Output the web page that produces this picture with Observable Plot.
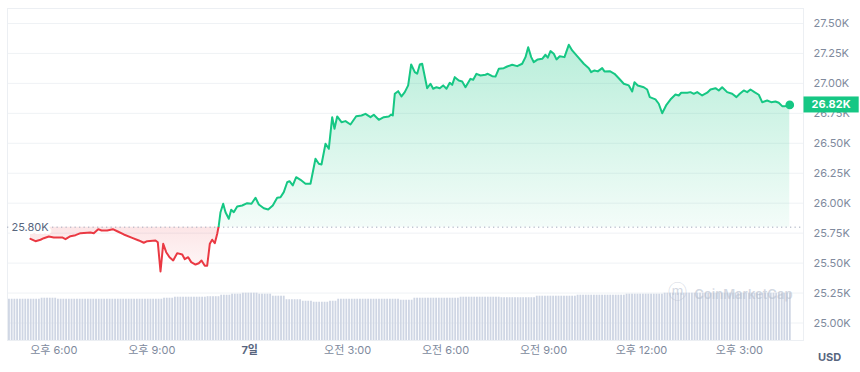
<!DOCTYPE html>
<html>
<head>
<meta charset="utf-8">
<script src="https://cdn.jsdelivr.net/npm/d3@7"></script>
<script src="https://cdn.jsdelivr.net/npm/@observablehq/plot@0.6"></script>
<style>
  html, body { margin: 0; padding: 0; background: #fff; }
  #chart { width: 860px; height: 372px; }
  svg { display: block; }
</style>
</head>
<body>
<div id="chart"></div>
<script>
// ---- data (hours relative to midnight of the 7th, price in thousands USD) ----
const times = [
 -6.714,-6.561,-6.407,-6.306,-6.153,-6.000,-5.743,-5.642,-5.489,-5.335,
 -5.182,-4.876,-4.775,-4.640,-4.539,-4.365,-4.193,-4.058,-3.856,-3.599,
 -3.397,-3.244,-3.139,-2.885,-2.815,-2.732,-2.649,-2.557,-2.456,-2.343,
 -2.221,-2.067,-1.988,-1.884,-1.792,-1.660,-1.559,-1.476,-1.375,-1.302,
 -1.222,-1.149,-1.069,-0.995,-0.946,-0.894,-0.812,-0.741,-0.640,-0.567,
 -0.487,-0.383,-0.230,-0.077,0.055,0.178,0.279,0.432,0.567,0.707,
 0.842,0.943,1.044,1.149,1.219,1.320,1.424,1.556,1.709,1.862,
 2.015,2.116,2.199,2.322,2.423,2.527,2.597,2.680,2.811,2.934,
 3.087,3.262,3.424,3.547,3.700,3.801,3.954,4.107,4.260,4.334,
 4.383,4.444,4.548,4.649,4.750,4.854,4.946,5.057,5.130,5.210,
 5.283,5.436,5.537,5.620,5.721,5.822,5.926,6.027,6.128,6.202,
 6.282,6.404,6.508,6.609,6.762,6.845,6.946,7.069,7.222,7.293,
 7.427,7.528,7.629,7.782,7.886,8.040,8.193,8.346,8.447,8.530,
 8.622,8.701,8.824,8.959,9.060,9.130,9.213,9.314,9.396,9.497,
 9.641,9.773,9.877,10.030,10.233,10.386,10.459,10.560,10.661,10.796,
 10.866,11.029,11.173,11.304,11.458,11.611,11.715,11.785,11.886,12.070,
 12.174,12.254,12.428,12.529,12.634,12.765,12.909,13.041,13.142,13.216,
 13.400,13.501,13.602,13.706,13.859,14.012,14.113,14.266,14.367,14.471,
 14.624,14.777,14.909,15.010,15.133,15.237,15.338,15.460,15.592,15.696,
 15.849,15.972,16.103,16.204,16.309,16.410,16.541
];
const prices = [
 25.703,25.683,25.695,25.708,25.722,25.714,25.714,25.700,25.725,25.733,
 25.750,25.755,25.750,25.783,25.772,25.772,25.783,25.766,25.739,25.711,
 25.689,25.670,25.683,25.689,25.674,25.430,25.661,25.591,25.549,25.522,
 25.583,25.572,25.533,25.549,25.508,25.488,25.499,25.522,25.478,25.478,
 25.661,25.695,25.666,25.745,25.814,25.925,25.995,25.925,25.870,25.945,
 25.925,25.973,25.981,26.000,25.995,26.045,25.989,25.958,25.947,25.981,
 26.045,26.050,26.092,26.175,26.184,26.148,26.217,26.195,26.162,26.162,
 26.371,26.329,26.323,26.496,26.454,26.718,26.621,26.724,26.676,26.685,
 26.657,26.726,26.732,26.746,26.718,26.738,26.696,26.718,26.724,26.740,
 26.732,26.913,26.935,26.891,26.927,26.983,27.158,27.094,27.080,27.158,
 27.164,26.960,26.997,26.955,26.968,26.960,26.983,26.955,27.005,26.988,
 27.052,27.024,27.016,26.968,27.038,27.030,27.080,27.066,27.072,27.080,
 27.060,27.057,27.122,27.127,27.141,27.155,27.144,27.164,27.219,27.302,
 27.219,27.177,27.200,27.205,27.239,27.214,27.269,27.247,27.200,27.227,
 27.219,27.322,27.275,27.227,27.164,27.127,27.094,27.108,27.100,27.127,
 27.100,27.102,27.080,27.043,26.997,26.983,26.932,27.010,26.983,26.968,
 26.949,26.885,26.866,26.830,26.751,26.821,26.872,26.907,26.899,26.922,
 26.922,26.927,26.913,26.927,26.899,26.922,26.949,26.960,26.941,26.968,
 26.927,26.913,26.885,26.913,26.941,26.927,26.949,26.927,26.905,26.843,
 26.857,26.843,26.849,26.838,26.810,26.810,26.820
];
// relative 5-minute volume bars, first bar at 16:36 on the 6th
const volumeStart = -7.40;
const volumeStep = 5 / 60;
const volumes = [
 41,41,41,41,41,41,41,41,41,41,41,41,
 42,42,42,42,42,42,
 41,41,41,41,41,41,41,41,41,41,41,41,41,
 41,41,41,41,41,41,41,41,41,41,41,41,41,
 41,41,41,41,41,41,41,41,41,41,41,41,41,
 42,42,42,42,
 43,43,43,43,43,43,43,43,43,43,43,43,
 43.5,43.5,43.5,43.5,43.5,
 45,45,45,45,
 46,46,46,46,
 47,47,47,47,47,47,
 46,46,46,46,46,
 44,44,44,44,44,
 40.5,40.5,40.5,40.5,40.5,40.5,
 39,39,39,39,
 38,38,38,38,38,38,
 39,39,39,
 41,41,41,41,41,41,41,41,41,41,41,41,41,41,41,41,41,41,41,41,41,41,41,
 40,40,40,40,40,
 42,42,42,42,42,42,42,42,42,42,42,42,42,42,42,42,42,
 43,43,43,43,43,43,43,43,43,43,43,43,43,43,43,
 42.5,42.5,42.5,42.5,42.5,42.5,42.5,42.5,42.5,42.5,42.5,42.5,42.5,
 44,44,44,44,44,44,44,44,44,44,44,44,44,44,44,
 45,45,45,45,45,45,45,45,45,45,45,45,45,45,45,45,45,45,
 46,46,46,46,46,46,46,46,46,46,46,46,46,46,
 47,47,47,47,47,47,47,47,47,47,47,47,47,47,47,47,
 47,47,47,47,47,47,47,47,47,47,47,47,47,47,47,47,
 47,47,47,47,47,47,47,47,47,47,47,47,47,47,47
];
const baseline = 25.80;
const yTicks = [25.00, 25.25, 25.50, 25.75, 26.00, 26.25, 26.50, 26.75, 27.00, 27.25, 27.50];
const yTickLabels = ["25.00K","25.25K","25.50K","25.75K","26.00K","26.25K","26.50K","26.75K","27.00K","27.25K","27.50K"];
const xTicks = [-6, -3, 0, 3, 6, 9, 12, 15];
const xTickLabels = ["오후 6:00","오후 9:00","7일","오전 3:00","오전 6:00","오전 9:00","오후 12:00","오후 3:00"];
const currency = "USD";
const watermark = "CoinMarketCap";

// ---- build tables ----
const n = Math.min(times.length, prices.length);
const series = d3.range(n).map(i => ({t: times[i], p: prices[i]}));
const volData = volumes.map((v, i) => ({t: volumeStart + i * volumeStep, v}));
const last = series[series.length - 1];
const xDomain = [-7.418, 16.962];
const yDomain = [24.854, 27.625];
const volShare = 0.1425; // share of the plot height used by the tallest volume bar
const vMax = d3.max(volumes);
const volTop = d => yDomain[0] + d.v / vMax * volShare * (yDomain[1] - yDomain[0]);

const GREEN = "#16c784", RED = "#ea3943";
const fmtK = d => d3.format(".2f")(d) + "K";
const priceLabel = fmtK(last.p);
const yLabelOf = new Map(yTicks.map((v, i) => [v, yTickLabels[i]]));
const xLabelOf = new Map(xTicks.map((v, i) => [v, xTickLabels[i]]));

const chart = Plot.plot({
  width: 860,
  height: 372,
  marginLeft: 7,
  marginRight: 57,
  marginTop: 8,
  marginBottom: 32,
  x: {domain: xDomain, axis: null},
  y: {domain: yDomain, axis: null},
  style: {fontFamily: "Inter, 'Noto Sans CJK KR', sans-serif", fontSize: "11px", background: "#fff", overflow: "visible"},
  marks: [
    Plot.ruleY(yTicks, {stroke: "#eff2f5", strokeWidth: 1}),
    Plot.frame({stroke: "#eceff3"}),
    Plot.rect(volData, {
      x1: d => d.t, x2: d => d.t + volumeStep,
      y1: () => yDomain[0], y2: volTop,
      fill: "#cfd6e4", insetLeft: 0.45, insetRight: 0.45
    }),
    Plot.areaY(series, {x: "t", y1: () => baseline, y2: d => Math.min(d.p, baseline), fill: "url(#redFill)"}),
    Plot.areaY(series, {x: "t", y1: () => baseline, y2: d => Math.max(d.p, baseline), fill: "url(#greenFill)"}),
    Plot.ruleY([baseline], {stroke: "#a3abbd", strokeWidth: 1, strokeDasharray: "1.3,3.2"}),
    Plot.text([baseline], {
      y: d => d, frameAnchor: "left", dx: 4, textAnchor: "start",
      text: d => fmtK(d), fill: "#58667e", stroke: "#fff", strokeWidth: 6, fontSize: 11
    }),
    Plot.text([watermark], {
      frameAnchor: "bottom-right", dx: -11, dy: -42, textAnchor: "end",
      text: d => d, fill: "#b7c0cf", fillOpacity: 0.6, fontSize: 13, fontWeight: 600
    }),
    Plot.text(["ⓜ"], {
      frameAnchor: "bottom-right", dx: -126, dy: -42, textAnchor: "middle",
      text: d => d, fill: "#b7c0cf", fillOpacity: 0.6, fontSize: 19
    }),
    Plot.line(series, {x: "t", y: "p", stroke: "url(#lineGrad)", strokeWidth: 2, strokeLinejoin: "round"}),
    Plot.dot([last], {x: "t", y: "p", r: 3.6, fill: GREEN, stroke: GREEN}),
    Plot.text(yTicks, {
      y: d => d, frameAnchor: "right", dx: 10, textAnchor: "start",
      text: d => yLabelOf.get(d), fill: "#808a9d", fontSize: 11
    }),
    Plot.text(xTicks.filter(d => d !== 0), {
      x: d => d, frameAnchor: "bottom", dy: 13,
      text: d => xLabelOf.get(d), fill: "#808a9d", fontSize: 11
    }),
    Plot.text(xTicks.filter(d => d === 0), {
      x: d => d, frameAnchor: "bottom", dy: 13,
      text: d => xLabelOf.get(d), fill: "#58667e", fontSize: 11, fontWeight: "bold"
    }),
    Plot.text([currency], {
      frameAnchor: "bottom-right", dx: 26, dy: 20, textAnchor: "middle",
      text: d => d, fill: "#58667e", fontSize: 11, fontWeight: "bold"
    }),
    Plot.text([last], {
      y: "p", frameAnchor: "right", dx: 8, textAnchor: "start",
      text: () => priceLabel, fill: "#fff", fontSize: 11, fontWeight: "bold"
    })
  ]
});

document.getElementById("chart").append(chart);

// ---- gradients derived from the y scale ----
const ys = chart.scale("y");
const y0 = ys.apply(baseline);
const yTopPx = ys.apply(d3.max(prices));
const yBotPx = ys.apply(d3.min(prices));
const svg = d3.select(chart);
const defs = svg.insert("defs", ":first-child");
const lg = defs.append("linearGradient").attr("id", "lineGrad")
  .attr("gradientUnits", "userSpaceOnUse").attr("x1", 0).attr("x2", 0).attr("y1", 0).attr("y2", 372);
lg.append("stop").attr("offset", y0 / 372).attr("stop-color", GREEN);
lg.append("stop").attr("offset", y0 / 372).attr("stop-color", RED);
const gg = defs.append("linearGradient").attr("id", "greenFill")
  .attr("gradientUnits", "userSpaceOnUse").attr("x1", 0).attr("x2", 0).attr("y1", yTopPx).attr("y2", y0);
gg.append("stop").attr("offset", 0).attr("stop-color", GREEN).attr("stop-opacity", 0.30);
gg.append("stop").attr("offset", 1).attr("stop-color", GREEN).attr("stop-opacity", 0.05);
const rg = defs.append("linearGradient").attr("id", "redFill")
  .attr("gradientUnits", "userSpaceOnUse").attr("x1", 0).attr("x2", 0).attr("y1", y0).attr("y2", yBotPx);
rg.append("stop").attr("offset", 0).attr("stop-color", RED).attr("stop-opacity", 0.13);
rg.append("stop").attr("offset", 1).attr("stop-color", RED).attr("stop-opacity", 0.04);

// ---- green box behind the current-price label (sized from the rendered text) ----
const labelText = Array.from(chart.querySelectorAll("text"))
  .filter(el => el.textContent === priceLabel).pop();
if (labelText) {
  const bb = labelText.getBBox();
  const rect = document.createElementNS("http://www.w3.org/2000/svg", "rect");
  rect.setAttribute("x", bb.x - 8);
  rect.setAttribute("y", bb.y - 1);
  rect.setAttribute("width", bb.width + 16);
  rect.setAttribute("height", bb.height + 2);
  rect.setAttribute("fill", GREEN);
  rect.setAttribute("stroke", "none");
  const tr = labelText.getAttribute("transform");
  if (tr) rect.setAttribute("transform", tr);
  labelText.parentNode.insertBefore(rect, labelText);
}
</script>
</body>
</html>
